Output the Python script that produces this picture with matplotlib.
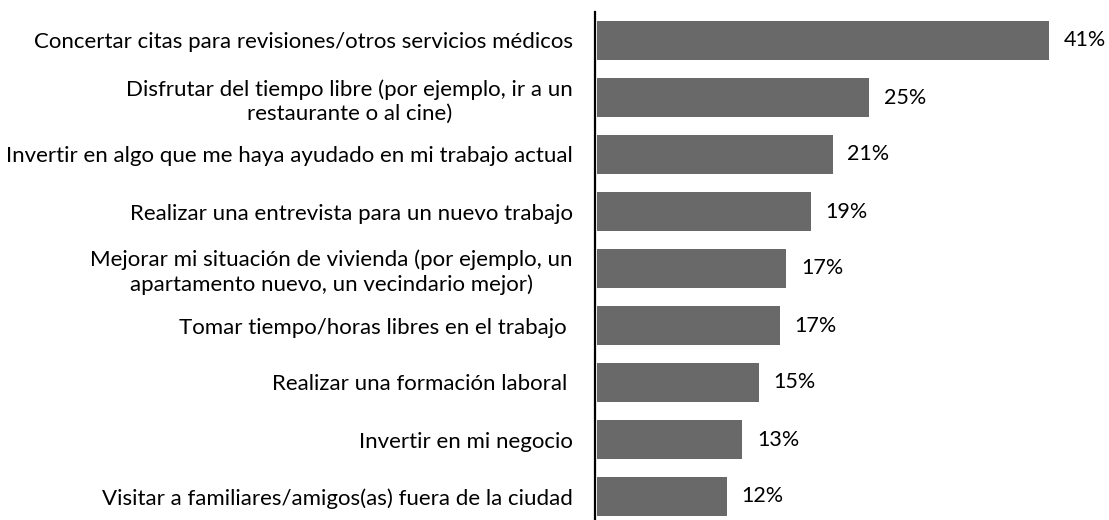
import matplotlib
matplotlib.use("Agg")
import matplotlib.pyplot as plt

categories = [
    "Concertar citas para revisiones/otros servicios médicos",
    "Disfrutar del tiempo libre (por ejemplo, ir a un\nrestaurante o al cine)",
    "Invertir en algo que me haya ayudado en mi trabajo actual",
    "Realizar una entrevista para un nuevo trabajo",
    "Mejorar mi situación de vivienda (por ejemplo, un\napartamento nuevo, un vecindario mejor)",
    "Tomar tiempo/horas libres en el trabajo ",
    "Realizar una formación laboral ",
    "Invertir en mi negocio",
    "Visitar a familiares/amigos(as) fuera de la ciudad",
]
values = [41.0, 24.7, 21.4, 19.4, 17.2, 16.6, 14.7, 13.2, 11.8]
labels = ["41%", "25%", "21%", "19%", "17%", "17%", "15%", "13%", "12%"]

plt.rcParams['font.family'] = ['Lato', 'DejaVu Sans']

W, H = 1109, 520
fig = plt.figure(figsize=(W / 100, H / 100), dpi=100)
left = 595 / W
top_px, bot_px = 12, 525
ax = fig.add_axes([left, 1 - bot_px / H, 1 - left, (bot_px - top_px) / H])

pos = list(range(len(categories)))
ax.barh(pos, values, height=0.68, color="#696969", left=0.15)
ax.set_ylim(len(categories) - 0.5, -0.5)
ax.set_xlim(0, 46.6)

for p, v, lab in zip(pos, values, labels):
    ax.annotate(lab, xy=(v + 0.15, p), xytext=(10.5, 0), textcoords="offset points",
                ha="left", va="center", fontsize=15.5, color="black")

ax.set_yticks(pos)
ax.set_yticklabels(categories, fontsize=16, ha="right", multialignment="center",
                   linespacing=1.25)
ax.tick_params(axis="y", length=0, pad=16)
ax.set_xticks([])
for s in ["top", "right", "bottom"]:
    ax.spines[s].set_visible(False)
ax.spines["left"].set_linewidth(1.6)
ax.spines["left"].set_color("black")

fig.savefig("out.png", dpi=100)
